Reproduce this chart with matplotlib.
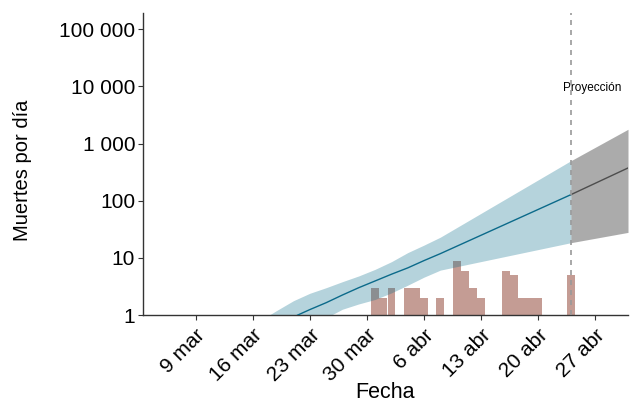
import numpy as np
import pandas as pd
import matplotlib
matplotlib.use("Agg")
import matplotlib.pyplot as plt
from matplotlib.ticker import FixedLocator, FuncFormatter

plt.rcParams['font.family'] = ['Liberation Sans', 'DejaVu Sans']

# Muertes diarias observadas
bar_dates = pd.to_datetime(["2020-03-31", "2020-04-01", "2020-04-02", "2020-04-04",
                            "2020-04-05", "2020-04-06", "2020-04-08", "2020-04-10",
                            "2020-04-11", "2020-04-12", "2020-04-13", "2020-04-16",
                            "2020-04-17", "2020-04-18", "2020-04-19", "2020-04-20",
                            "2020-04-24"])
bar_deaths = [3, 2, 3, 3, 3, 2, 2, 9, 6, 3, 2, 6, 5, 2, 2, 2, 5]

# Intervalo del modelo ajustado
band_dates = pd.to_datetime(["2020-03-18", "2020-03-19", "2020-03-21", "2020-03-23",
                             "2020-03-25", "2020-03-27", "2020-03-29", "2020-03-31",
                             "2020-04-02", "2020-04-04", "2020-04-06", "2020-04-08",
                             "2020-04-24"])
band_upper = [1.0, 1.22, 1.79, 2.41, 3.02, 3.85, 4.85, 6.32, 8.6, 12.4, 16.8, 23.1, 502]
band_lower = [0.5, 0.5, 0.5, 0.5, 0.9, 1.27, 1.57, 1.88, 2.45, 3.34, 4.62, 6.13, 18.5]

# Mediana del modelo ajustado
line_dates = pd.to_datetime(["2020-03-21 12:00", "2020-03-23 00:00", "2020-03-25 00:00",
                             "2020-03-27 00:00", "2020-03-29 00:00", "2020-03-31 00:00",
                             "2020-04-02 00:00", "2020-04-04 00:00", "2020-04-06 00:00",
                             "2020-04-08 00:00", "2020-04-24 00:00"])
line_mid = [1.0, 1.25, 1.65, 2.25, 3.02, 3.96, 5.19, 6.7, 9.0, 11.9, 128]

# Proyección
proj_dates = pd.to_datetime(["2020-04-24", "2020-05-01"])
proj_upper = [502, 1780]
proj_mid = [128, 375]
proj_lower = [18.5, 28]

xticks = pd.date_range("2020-03-09", "2020-04-27", freq="7D")
xtick_labels = ["9 mar", "16 mar", "23 mar", "30 mar", "6 abr", "13 abr", "20 abr", "27 abr"]
yticks = [1, 10, 100, 1000, 10000, 100000]

fig = plt.figure(figsize=(6.35, 4.03), dpi=100)
ax = fig.add_axes([0.225, 0.218, 0.764, 0.749])

ax.bar(bar_dates, bar_deaths, width=0.95, color="#c49c94", zorder=1)

ax.fill_between(band_dates, band_lower, band_upper, color="#0a6f8c", alpha=0.3, lw=0, zorder=2)
ax.plot(line_dates, line_mid, color="#0b6a8a", lw=1, zorder=3)

ax.fill_between(proj_dates, proj_lower, proj_upper, color="#595959", alpha=0.5, lw=0, zorder=2)
ax.plot(proj_dates, proj_mid, color="#4d4d4d", lw=1, zorder=3)

ax.axvline(pd.Timestamp("2020-04-24"), color="#999999", ls=(0, (3, 3)), lw=1.2, zorder=4)
ax.text(pd.Timestamp("2020-04-26 15:00"), 9500, "Proyección", ha="center", va="center",
        fontsize=8.5)

ax.set_yscale("log")
ax.set_ylim(1, 1.9e5)
ax.set_xlim(pd.Timestamp("2020-03-02 13:00"), pd.Timestamp("2020-05-01"))
ax.yaxis.set_major_locator(FixedLocator(yticks))
ax.yaxis.set_minor_locator(FixedLocator([]))
ax.yaxis.set_major_formatter(FuncFormatter(lambda v, p: f"{int(v):,}".replace(",", " ")))
ax.set_xticks(xticks)
ax.set_xticklabels(xtick_labels, rotation=45, ha="right", rotation_mode="anchor")

ax.tick_params(axis="both", labelsize=15, length=3.5, width=0.8, color="#333333")
ax.tick_params(axis="y", pad=2)
ax.tick_params(axis="x", pad=4)
for s in ["top", "right"]:
    ax.spines[s].set_visible(False)
for s in ["left", "bottom"]:
    ax.spines[s].set_linewidth(1.0)
    ax.spines[s].set_color("#333333")

ax.set_xlabel("Fecha", fontsize=15.5)
ax.xaxis.set_label_coords(0.5, -0.222)
ax.set_ylabel("Muertes por día", fontsize=14.5)
ax.yaxis.set_label_coords(-0.229, 0.48)

fig.savefig("out.png", dpi=100)
